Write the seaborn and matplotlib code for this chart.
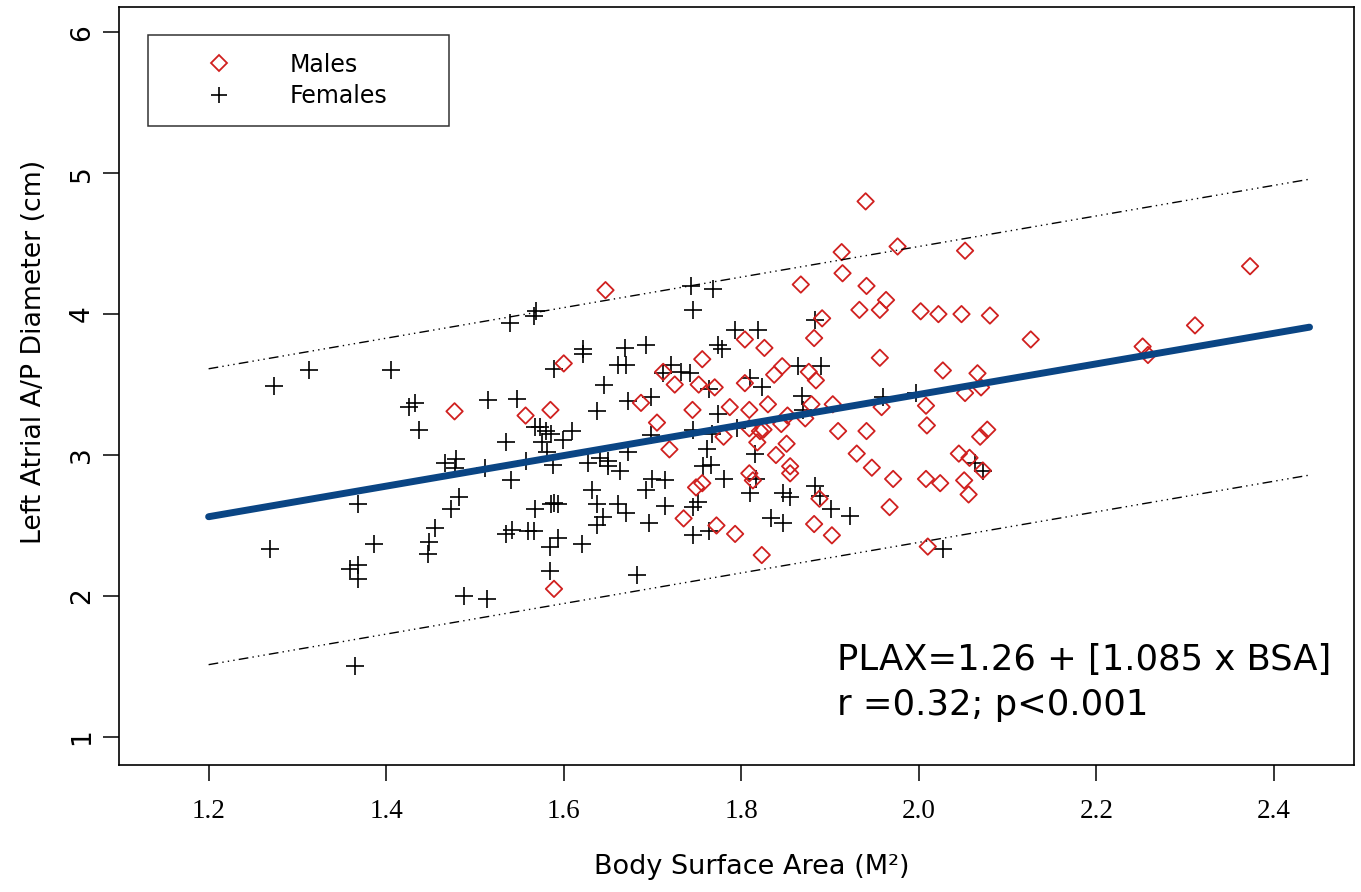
import matplotlib
matplotlib.use("Agg")
import matplotlib.pyplot as plt
from matplotlib.lines import Line2D
import numpy as np
import pandas as pd
import seaborn as sns

# Body surface area (M^2) and left atrial A/P diameter (cm)
male_bsa = [1.477, 1.557, 1.585, 1.589, 1.600, 1.647, 1.687, 1.705, 1.712, 1.719,
            1.725, 1.735, 1.745, 1.749, 1.756, 1.752, 1.756, 1.770, 1.772, 1.780,
            1.787, 1.793, 1.804, 1.804, 1.809, 1.809, 1.809, 1.813, 1.818, 1.821,
            1.825, 1.823, 1.826, 1.830, 1.837, 1.846, 1.839, 1.845, 1.851, 1.852,
            1.855, 1.855, 1.867, 1.872, 1.876, 1.879, 1.882, 1.884, 1.882, 1.888,
            1.891, 1.902, 1.903, 1.909, 1.913, 1.914, 1.930, 1.933, 1.940, 1.941,
            1.941, 1.947, 1.956, 1.963, 1.956, 1.958, 1.967, 1.971, 1.976, 2.002,
            2.008, 2.009, 2.008, 2.010, 2.022, 2.024, 2.027, 2.045, 2.048, 2.052,
            2.052, 2.051, 2.056, 2.057, 2.066, 2.069, 2.070, 2.072, 2.077, 2.080,
            2.126, 2.252, 2.258, 2.311, 2.373]
male_la = [3.31, 3.28, 3.32, 2.05, 3.65, 4.17, 3.37, 3.23, 3.59, 3.04,
           3.50, 2.55, 3.32, 2.77, 2.80, 3.50, 3.68, 3.48, 2.50, 3.13,
           3.34, 2.44, 3.82, 3.51, 3.32, 3.19, 2.87, 2.82, 3.09, 3.17,
           3.18, 2.29, 3.76, 3.36, 3.57, 3.63, 3.00, 3.22, 3.08, 3.28,
           2.92, 2.87, 4.21, 3.26, 3.59, 3.36, 3.83, 3.53, 2.51, 2.69,
           3.97, 2.43, 3.36, 3.17, 4.44, 4.29, 3.01, 4.03, 4.80, 4.20,
           3.17, 2.91, 4.03, 4.10, 3.69, 3.34, 2.63, 2.83, 4.48, 4.02,
           3.35, 3.21, 2.83, 2.35, 4.00, 2.80, 3.60, 3.01, 4.00, 4.45,
           3.44, 2.82, 2.72, 2.98, 3.58, 3.13, 3.48, 2.89, 3.18, 3.99,
           3.82, 3.77, 3.71, 3.92, 4.34]

female_bsa = [1.269, 1.274, 1.313, 1.359, 1.368, 1.368, 1.365, 1.368, 1.386, 1.405,
              1.426, 1.432, 1.437, 1.447, 1.448, 1.455, 1.466, 1.479, 1.477, 1.473,
              1.482, 1.488, 1.511, 1.513, 1.515, 1.535, 1.535, 1.539, 1.541, 1.542,
              1.547, 1.557, 1.560, 1.567, 1.568, 1.568, 1.569, 1.567, 1.573, 1.575,
              1.580, 1.581, 1.584, 1.585, 1.586, 1.586, 1.588, 1.589, 1.589, 1.594,
              1.594, 1.599, 1.609, 1.620, 1.622, 1.622, 1.627, 1.632, 1.637, 1.637,
              1.638, 1.641, 1.644, 1.645, 1.650, 1.650, 1.661, 1.661, 1.663, 1.669,
              1.670, 1.670, 1.672, 1.672, 1.682, 1.693, 1.693, 1.696, 1.698, 1.698,
              1.699, 1.712, 1.714, 1.714, 1.721, 1.732, 1.742, 1.743, 1.746, 1.746,
              1.746, 1.746, 1.751, 1.757, 1.761, 1.764, 1.764, 1.766, 1.767, 1.768,
              1.774, 1.778, 1.774, 1.781, 1.793, 1.795, 1.810, 1.810, 1.815, 1.817,
              1.819, 1.823, 1.833, 1.847, 1.847, 1.855, 1.864, 1.868, 1.870, 1.883,
              1.883, 1.889, 1.890, 1.901, 1.922, 1.960, 1.997, 2.027, 2.063, 2.072]
female_la = [2.33, 3.49, 3.60, 2.19, 2.22, 2.12, 1.50, 2.65, 2.37, 3.60,
             3.34, 3.37, 3.18, 2.30, 2.38, 2.48, 2.94, 2.97, 2.91, 2.62,
             2.70, 2.00, 2.91, 1.98, 3.39, 3.09, 2.44, 3.94, 2.82, 2.47,
             3.40, 2.96, 2.46, 2.46, 3.20, 2.62, 4.02, 3.99, 3.20, 3.09,
             3.17, 3.02, 2.35, 2.18, 3.15, 2.65, 2.93, 3.61, 2.66, 2.65,
             2.41, 3.11, 3.17, 2.37, 3.75, 3.72, 2.94, 2.75, 2.65, 2.50,
             3.31, 2.98, 2.56, 3.50, 2.96, 2.92, 3.64, 2.65, 2.89, 3.76,
             3.64, 2.59, 3.38, 3.02, 2.15, 3.78, 2.75, 2.52, 3.41, 3.14,
             2.83, 3.58, 2.82, 2.64, 3.64, 3.59, 3.58, 4.20, 4.03, 3.18,
             2.63, 2.43, 2.67, 2.92, 3.04, 3.47, 2.46, 2.93, 3.15, 4.18,
             3.78, 3.75, 3.29, 2.83, 3.89, 3.19, 3.55, 2.73, 3.01, 2.83,
             3.89, 3.48, 2.55, 2.73, 2.52, 2.70, 3.63, 3.42, 3.32, 3.96,
             2.78, 2.71, 3.63, 2.62, 2.57, 3.41, 3.44, 2.33, 2.94, 2.89]

# regression PLAX = 1.26 + 1.085 * BSA, with +/- limits
intercept = 1.26
slope = 1.085
band = 1.05
fit_range = [1.2, 2.44]

red = "#d0201f"
navy = "#0a4584"

males = pd.DataFrame({"BSA": male_bsa, "LA": male_la})
females = pd.DataFrame({"BSA": female_bsa, "LA": female_la})
fit = pd.DataFrame({"BSA": fit_range})
fit["LA"] = intercept + slope * fit["BSA"]
fit["upper"] = fit["LA"] + band
fit["lower"] = fit["LA"] - band

sns.set_style("white")
plt.rcParams["font.family"] = ["DejaVu Sans"]
plt.rcParams["text.color"] = "black"
plt.rcParams["axes.labelcolor"] = "black"
plt.rcParams["xtick.color"] = "black"
plt.rcParams["ytick.color"] = "black"

fig = plt.figure(figsize=(13.61, 8.92), dpi=100)
ax = fig.add_axes([0.0874, 0.1424, 0.9074, 0.8498])

sns.scatterplot(data=females, x="BSA", y="LA", marker="+", color="black",
                s=150, linewidth=1.2, ax=ax, zorder=2)
sns.scatterplot(data=males, x="BSA", y="LA", marker="D", facecolor="none",
                edgecolor=red, s=70, linewidth=1.3, ax=ax, zorder=2)

sns.lineplot(data=fit, x="BSA", y="LA", color=navy, linewidth=5, ax=ax, zorder=3)
for col in ["upper", "lower"]:
    sns.lineplot(data=fit, x="BSA", y=col, color="black", linewidth=1,
                 dashes=False, ax=ax, zorder=3)
for line in ax.lines[1:]:
    line.set_dashes([7, 3, 1, 3, 1, 3, 1, 3])

ax.set_xlim(1.099, 2.490)
ax.set_ylim(0.80, 6.18)
ax.set_xticks([1.2, 1.4, 1.6, 1.8, 2.0, 2.2, 2.4])
ax.set_xticklabels(["1.2", "1.4", "1.6", "1.8", "2.0", "2.2", "2.4"])
ax.set_yticks([1, 2, 3, 4, 5, 6])

for sp in ax.spines.values():
    sp.set_visible(True)
    sp.set_color("black")
    sp.set_linewidth(1.2)

ax.tick_params(axis="both", direction="out", length=11.5, width=1.1,
               color="black", bottom=True, left=True)
ax.tick_params(axis="x", pad=13)
ax.tick_params(axis="y", pad=6, labelrotation=90)
for lab in ax.get_xticklabels():
    lab.set_fontfamily("Liberation Serif")
    lab.set_fontsize(19.5)
for lab in ax.get_yticklabels():
    lab.set_fontsize(19)
    lab.set_va("center")

ax.set_xlabel("Body Surface Area (M²)", fontsize=19.5)
ax.set_ylabel("Left Atrial A/P Diameter (cm)", fontsize=19.3)
ax.xaxis.set_label_coords(0.512, -0.118)
ax.yaxis.set_label_coords(-0.058, 0.545)

ax.text(1.908, 1.546, "PLAX=1.26 + [1.085 x BSA]", fontsize=25.5, va="center", ha="left")
ax.text(1.908, 1.227, "r =0.32; p<0.001", fontsize=25.5, va="center", ha="left")

handles = [
    Line2D([], [], marker="D", linestyle="none", markerfacecolor="none",
           markeredgecolor=red, markersize=8.4, markeredgewidth=1.3),
    Line2D([], [], marker="+", linestyle="none", color="black",
           markersize=12, markeredgewidth=1.2),
]
leg = ax.legend(handles, ["Males", "Females"], loc="upper left",
                bbox_to_anchor=(0.0235, 0.963 - 0.12, 0.244, 0.12), mode="expand",
                borderaxespad=0, fontsize=17, frameon=True, fancybox=False,
                borderpad=0.75, handlelength=4.5, handletextpad=0.75,
                labelspacing=0.3)
leg.get_frame().set_edgecolor("black")
leg.get_frame().set_linewidth(1.1)

fig.savefig("out.png", dpi=100, facecolor="white")
